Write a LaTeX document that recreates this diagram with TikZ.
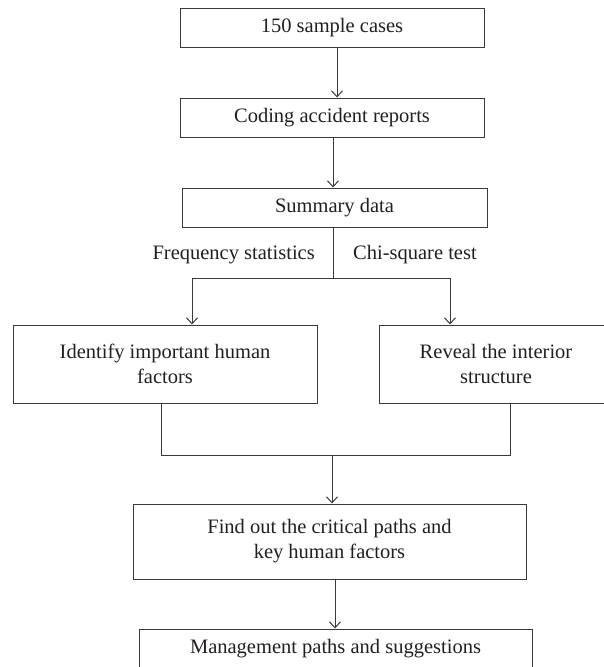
\documentclass[tikz,border=0pt]{standalone}
\usepackage{fontspec}
\setmainfont{Liberation Serif}
\usetikzlibrary{arrows.meta,calc}
\definecolor{ln}{HTML}{3A3A3A}
\definecolor{tx}{HTML}{231F20}
\begin{document}
\begin{tikzpicture}[x=1pt,y=1pt,
  box/.style={draw=ln,line width=1pt,rectangle,inner sep=0pt,align=center,text=tx,
    font=\fontsize{20.5}{25}\selectfont},
  lbl/.style={inner sep=0pt,text=tx,font=\fontsize{20.5}{25}\selectfont},
  conn/.style={draw=ln,line width=1pt},
  arr/.style={conn,-{Straight Barb[length=6pt,width=11pt,line width=1pt]}}]
\useasboundingbox (0,0) rectangle (604,-667);
\clip (0,0) rectangle (604,-667);
\node[box,minimum width=304pt,minimum height=39pt] (b1) at (332,-27.5) {150 sample cases};
\node[box,minimum width=304pt,minimum height=39pt] (b2) at (332,-117.5) {Coding accident reports};
\node[box,minimum width=305pt,minimum height=39pt] (b3) at (334.5,-207.5) {Summary data};
\node[box,minimum width=304pt,minimum height=78pt] (b4) at (165,-364) {Identify important human\\factors};
\node[box,minimum width=234pt,minimum height=78pt] (b5) at (496,-364) {Reveal the interior\\structure};
\node[box,minimum width=393pt,minimum height=75pt] (b6) at (329.5,-541.5) {Find out the critical paths and\\key human factors};
\node[box,minimum width=393pt,minimum height=40pt] (b7) at (335.5,-649) {Management paths and suggestions};
\node[lbl,anchor=east] (l1) at (315,-255) {Frequency statistics};
\node[lbl,anchor=west] (l2) at (353,-255) {Chi-square test};
\coordinate (split) at (333,-278);
\coordinate (join) at (332,-455);
\draw[arr] ([xshift=5pt]b1.south) -- ([xshift=5pt]b2.north);
\draw[arr] ([xshift=1pt]b2.south) -- ([xshift=1pt]b2.south |- b3.north);
\draw[conn] (split |- b3.south) -- (split);
\draw[arr] (split) -| ([xshift=27pt]b4.north);
\draw[arr] (split) -| ([xshift=-46pt]b5.north);
\draw[conn] ([xshift=-4pt]b4.south) |- (join);
\draw[conn] ([xshift=14pt]b5.south) |- (join);
\draw[arr] (join) -- (join |- b6.north);
\draw[arr] ([xshift=5.5pt]b6.south) -- ([xshift=5.5pt]b6.south |- b7.north);
\end{tikzpicture}
\end{document}
